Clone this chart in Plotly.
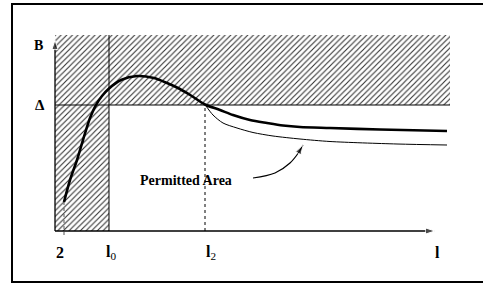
import plotly.graph_objects as go

# ---- data (schematic units) ----
L_TICK2 = 0.9      # position of "2"
L0 = 5.4           # l0
L2 = 15.0          # l2
X_END = 38.0       # x-axis arrow tip
Y_END = 19.1       # y-axis arrow tip
DELTA = 12.6       # Δ level
HATCH_TOP = 19.6
HATCH_RIGHT = 39.5

thick_x = [0.9, 1.5, 2.2, 2.8, 3.5, 4.1, 4.7, 5.4, 6.6, 8.2, 9.9, 11.2, 12.4, 13.6, 15.0,
           16.5, 17.8, 19.5, 21.2, 22.8, 24.5, 27.5, 32.5, 39.2]
thick_y = [2.9, 5.1, 7.1, 9.1, 11.3, 12.6, 13.5, 14.25, 15.1, 15.5, 15.3, 14.8, 14.25, 13.55, 12.65,
           12.1, 11.6, 11.1, 10.8, 10.55, 10.4, 10.3, 10.15, 10.0]

thin_x = [15.0, 15.8, 16.8, 18.2, 19.8, 21.8, 24.5, 27.5, 34.2, 39.2]
thin_y = [12.65, 11.6, 10.8, 10.3, 9.85, 9.5, 9.2, 8.95, 8.7, 8.6]

arrow_x = [19.8, 22.0, 23.5, 24.4, 24.8]
arrow_y = [5.3, 5.8, 6.8, 7.9, 8.6]

tick_labels = ["<b>2</b>", "<b>l</b><sub>0</sub>", "<b>l</b><sub>2</sub>", "<b>l</b>"]
tick_pos = [0.5, 5.6, 15.6, 38.2]

FONT = "Liberation Serif"

fig = go.Figure()

# hatched forbidden region (L-shape)
hx = [0, L0, L0, HATCH_RIGHT, HATCH_RIGHT, 0, 0]
hy = [0, 0, DELTA, DELTA, HATCH_TOP, HATCH_TOP, 0]
fig.add_trace(go.Scatter(x=hx, y=hy, mode="lines", fill="toself",
                         line=dict(width=0, color="rgba(0,0,0,0)"),
                         fillcolor="white",
                         fillpattern=dict(shape="/", size=4, solidity=0.28,
                                          fgcolor="#333", bgcolor="white", fillmode="replace"),
                         hoverinfo="skip", showlegend=False))

# Δ line
fig.add_trace(go.Scatter(x=[0, HATCH_RIGHT], y=[DELTA, DELTA], mode="lines",
                         line=dict(color="black", width=1), showlegend=False))
# l0 line
fig.add_trace(go.Scatter(x=[L0, L0], y=[0, HATCH_TOP], mode="lines",
                         line=dict(color="black", width=1), showlegend=False))
# dotted verticals
fig.add_trace(go.Scatter(x=[L2, L2], y=[0, DELTA], mode="lines",
                         line=dict(color="black", width=1, dash="dot"), showlegend=False))
fig.add_trace(go.Scatter(x=[L_TICK2, L_TICK2], y=[-0.4, thick_y[0]], mode="lines",
                         line=dict(color="#555", width=1, dash="dot"), showlegend=False))

# curves
fig.add_trace(go.Scatter(x=thin_x, y=thin_y, mode="lines", line_shape="spline",
                         line=dict(color="black", width=1, smoothing=0.8), showlegend=False))
fig.add_trace(go.Scatter(x=thick_x, y=thick_y, mode="lines", line_shape="spline",
                         line=dict(color="black", width=2.6, smoothing=0.8), showlegend=False))

# curved pointer with arrow head
fig.add_trace(go.Scatter(x=arrow_x, y=arrow_y, mode="lines+markers", line_shape="spline",
                         line=dict(color="black", width=1.2),
                         marker=dict(symbol=["circle"] * 4 + ["arrow"],
                                     size=[0, 0, 0, 0, 10], angleref="previous",
                                     color="black"),
                         showlegend=False))

# axes with arrow heads
fig.add_trace(go.Scatter(x=[0, X_END], y=[0, 0], mode="lines+markers",
                         line=dict(color="black", width=1.3),
                         marker=dict(symbol=["circle", "arrow"], size=[0, 10],
                                     angleref="previous", color="black"),
                         showlegend=False))
fig.add_trace(go.Scatter(x=[0, 0], y=[0, Y_END], mode="lines+markers",
                         line=dict(color="black", width=1.3),
                         marker=dict(symbol=["circle", "arrow"], size=[0, 10],
                                     angleref="previous", color="black"),
                         showlegend=False))

# labels
for t, p in zip(tick_labels, tick_pos):
    fig.add_annotation(x=p, y=-2.1, text=t, showarrow=False, xref="x", yref="y",
                       font=dict(family=FONT, size=16, color="black"))
fig.add_annotation(x=-1.7, y=18.6, text="<b>B</b>", showarrow=False,
                   font=dict(family=FONT, size=14, color="black"))
fig.add_annotation(x=-1.5, y=DELTA, text="<b>Δ</b>", showarrow=False,
                   font=dict(family=FONT, size=15, color="black"))
fig.add_annotation(x=13.05, y=5.1, text="<b>Permitted Area</b>", showarrow=False,
                   font=dict(family=FONT, size=14, color="black"))

# outer frame: left, top and bottom edges only (right edge lies off the page)
fig.add_trace(go.Scatter(x=[47, -4.3, -4.3, 47], y=[22.7, 22.7, -5.1, -5.1], mode="lines",
                         line=dict(color="black", width=2),
                         hoverinfo="skip", showlegend=False))

fig.update_layout(
    width=483, height=284,
    margin=dict(l=0, r=0, t=0, b=0, pad=0, autoexpand=False),
    paper_bgcolor="white", plot_bgcolor="white",
    xaxis=dict(range=[-5.5, 42.8], visible=False, fixedrange=True, domain=[0, 1]),
    yaxis=dict(range=[-5.3, 23.1], visible=False, fixedrange=True, domain=[0, 1]),
    showlegend=False,
)

fig.write_html("out.html", config={"displayModeBar": False, "responsive": False},
               post_script="document.body.style.margin='0';document.body.style.overflow='hidden';")
